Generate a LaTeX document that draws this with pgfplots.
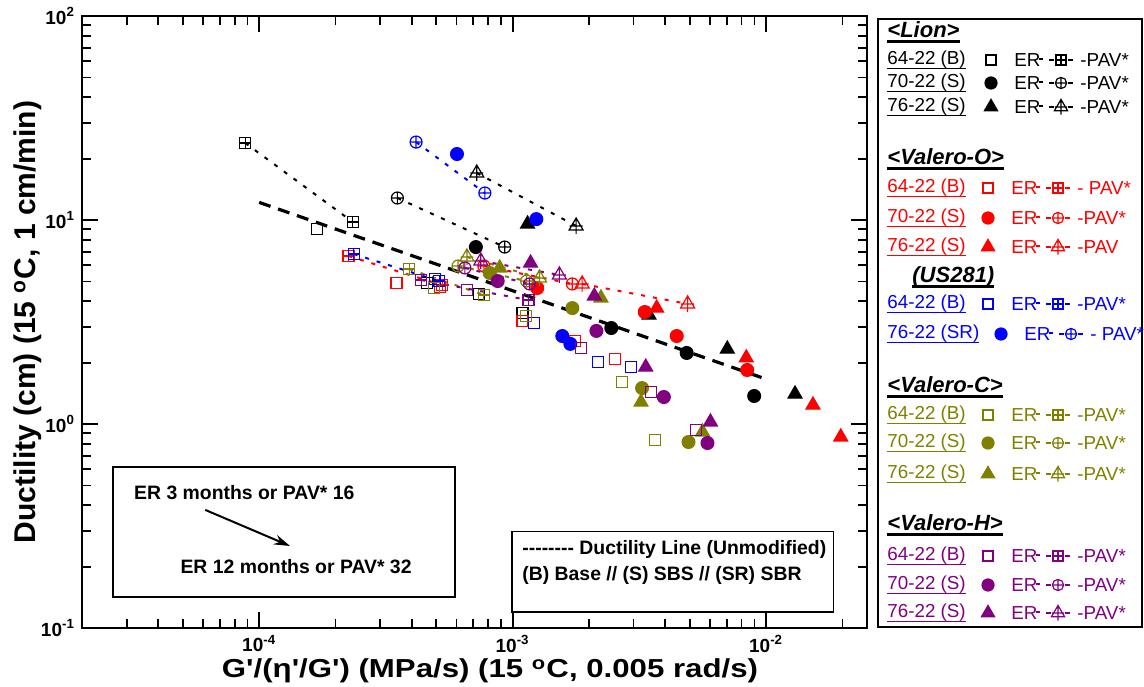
\documentclass[border=0pt]{standalone}
\usepackage{fontspec}
\setmainfont{Liberation Sans}
\usepackage{pgfplots}
\pgfplotsset{compat=1.18}
\usetikzlibrary{arrows.meta}
\definecolor{cred}{RGB}{255,0,0}
\definecolor{cblue}{RGB}{0,0,255}
\definecolor{colive}{RGB}{128,128,0}
\definecolor{cpurple}{RGB}{128,0,128}
\pgfdeclareplotmark{sqplus}{%
  \pgfpathrectangle{\pgfpoint{-\pgfplotmarksize}{-\pgfplotmarksize}}{\pgfpoint{2\pgfplotmarksize}{2\pgfplotmarksize}}%
  \pgfpathmoveto{\pgfpoint{-\pgfplotmarksize}{0pt}}\pgfpathlineto{\pgfpoint{\pgfplotmarksize}{0pt}}%
  \pgfpathmoveto{\pgfpoint{0pt}{-\pgfplotmarksize}}\pgfpathlineto{\pgfpoint{0pt}{\pgfplotmarksize}}%
  \pgfusepathqstroke}
\pgfdeclareplotmark{circplus}{%
  \pgfpathcircle{\pgfpointorigin}{\pgfplotmarksize}%
  \pgfpathmoveto{\pgfpoint{-\pgfplotmarksize}{0pt}}\pgfpathlineto{\pgfpoint{\pgfplotmarksize}{0pt}}%
  \pgfpathmoveto{\pgfpoint{0pt}{-\pgfplotmarksize}}\pgfpathlineto{\pgfpoint{0pt}{\pgfplotmarksize}}%
  \pgfusepathqstroke}
\pgfdeclareplotmark{triplus}{%
  \pgfpathmoveto{\pgfpoint{0pt}{\pgfplotmarksize}}%
  \pgfpathlineto{\pgfpoint{-0.866\pgfplotmarksize}{-0.5\pgfplotmarksize}}%
  \pgfpathlineto{\pgfpoint{0.866\pgfplotmarksize}{-0.5\pgfplotmarksize}}%
  \pgfpathclose
  \pgfpathmoveto{\pgfpoint{0pt}{\pgfplotmarksize}}\pgfpathlineto{\pgfpoint{0pt}{-\pgfplotmarksize}}%
  \pgfpathmoveto{\pgfpoint{-0.8\pgfplotmarksize}{0pt}}\pgfpathlineto{\pgfpoint{0.8\pgfplotmarksize}{0pt}}%
  \pgfusepathqstroke}
\newcommand{\ulthin}[1]{\sbox0{#1}\rlap{\rule[-2.2pt]{\wd0}{0.6pt}}\usebox0}
\newcommand{\ulthick}[1]{\sbox0{#1}\rlap{\rule[-2.8pt]{\wd0}{1.6pt}}\usebox0}
\newcommand{\lfont}{\fontsize{9.4}{11}\selectfont}
\newcommand{\bfont}{\fontsize{9.7}{11}\selectfont\bfseries}
\newcommand{\q}{\textquotesingle}
\pgfplotsset{
  er/.style={only marks, mark options={solid, line width=0.6pt}},
  pav/.style={line width=1pt, dash pattern=on 2pt off 4pt, mark options={solid, line width=0.6pt}},
  msq/.style={mark=square, mark size=2.75pt},
  msqp/.style={mark=sqplus, mark size=2.75pt},
  mci/.style={mark=*, mark size=3.2pt},
  mcip/.style={mark=circplus, mark size=3pt},
  mtr/.style={mark=triangle*, mark size=4pt},
  mtrp/.style={mark=triplus, mark size=4pt},
}
\tikzset{
  lsq/.style={mark=square, mark size=2.5pt},
  lsqp/.style={mark=sqplus, mark size=2.5pt},
  lci/.style={mark=*, mark size=3pt},
  lcip/.style={mark=circplus, mark size=2.8pt},
  ltr/.style={mark=triangle*, mark size=3.8pt},
  ltrp/.style={mark=triplus, mark size=3.8pt},
}
% legend row: y, color, ER mark, PAV mark, label, pav text, dx (ER part), dx2 (PAV part)
\newcommand{\lrow}[8]{%
  \node[anchor=west, text=#2, font=\lfont, inner sep=0pt] at (887,#1) {\ulthin{#5}};
  \path[draw=#2, fill=#2, line width=0.6pt] plot[#3] coordinates {({988+#7},#1)};
  \node[anchor=west, text=#2, font=\lfont, inner sep=0pt] at ({1011+#7},#1) {ER};
  \draw[#2, line width=1pt] ({1036+#7},{#1-1}) -- ({1040+#7},{#1-1});
  \draw[#2, line width=0.9pt] ({1046+#8},#1) -- ({1051+#8},#1) ({1065+#8},#1) -- ({1070+#8},#1);
  \path[draw=#2, line width=0.6pt] plot[#4] coordinates {({1058+#8},#1)};
  \node[anchor=west, text=#2, font=\lfont, inner sep=0pt] at ({1077+#8},#1) {#6};
}
\newcommand{\lhead}[3]{\node[anchor=west, font=\fontsize{11}{13}\selectfont\bfseries\itshape, inner sep=0pt] at (#1,#2) {\ulthick{#3}};}
\begin{document}
\begin{tikzpicture}
\begin{axis}[at={(0,0)}, anchor=south west, scale only axis,
  width=392.5pt, height=306pt,
  xmode=log, ymode=log, xmin=2e-5, xmax=2.5e-2, ymin=0.1, ymax=100,
  tick align=inside, major tick length=8pt, minor tick length=4.5pt,
  axis line style={line width=1.2pt},
  every tick/.style={black, line width=0.9pt},
  xtick={1e-4,1e-3,1e-2},
  xticklabels={10\textsuperscript{-4},10\textsuperscript{-3},10\textsuperscript{-2}},
  minor xtick={3e-5,4e-5,5e-5,6e-5,7e-5,8e-5,9e-5,2e-4,3e-4,4e-4,5e-4,6e-4,7e-4,8e-4,9e-4,2e-3,3e-3,4e-3,5e-3,6e-3,7e-3,8e-3,9e-3,2e-2},
  ytick={0.1,1,10,100},
  yticklabels={10\textsuperscript{-1},10\textsuperscript{0},10\textsuperscript{1},10\textsuperscript{2}},
  minor ytick={0.2,0.3,0.4,0.5,0.6,0.7,0.8,0.9,2,3,4,5,6,7,8,9,20,30,40,50,60,70,80,90},
  ticklabel style={font=\fontsize{9.5}{11}\selectfont\bfseries},
]
% ductility line
\addplot[black, line width=1.6pt, dash pattern=on 6pt off 4pt] coordinates {(1e-4,12.2) (1e-2,1.66)};
% Lion (black)
\addplot[black, er, msq] coordinates {(1.69e-4,9.03) (4.60e-4,4.91) (7.36e-4,4.34) (1.094e-3,3.50)};
\addplot[black, pav, msqp] coordinates {(8.81e-5,23.85) (2.34e-4,9.78)};
\addplot[black, er, mci] coordinates {(7.16e-4,7.37) (2.45e-3,2.955) (4.86e-3,2.23) (8.97e-3,1.372)};
\addplot[black, pav, mcip] coordinates {(3.51e-4,12.82) (9.30e-4,7.37)};
\addplot[black, er, mtr] coordinates {(1.145e-3,9.56) (3.45e-3,3.42) (7.03e-3,2.33) (1.30e-2,1.403)};
\addplot[black, pav, mtrp] coordinates {(7.22e-4,17.0) (1.78e-3,9.35)};
% Valero-O (red)
\addplot[cred, er, msq] coordinates {(3.48e-4,4.91) (5.17e-4,4.69) (1.094e-3,3.20) (1.767e-3,2.55) (2.53e-3,2.08)};
\addplot[cred, pav, msqp] coordinates {(2.25e-4,6.66) (5.27e-4,4.80)};
\addplot[cred, er, mci] coordinates {(1.25e-3,4.64) (3.32e-3,3.54) (4.44e-3,2.70) (8.42e-3,1.84)};
\addplot[cred, pav, mcip] coordinates {(7.70e-4,5.95) (1.72e-3,4.86)};
\addplot[cred, er, mtr] coordinates {(3.70e-3,3.70) (8.35e-3,2.11) (1.53e-2,1.239) (1.97e-2,0.864)};
\addplot[cred, pav, mtrp] coordinates {(1.88e-3,4.86) (4.90e-3,3.88)};
% US281 (blue)
\addplot[cblue, er, msq] coordinates {(4.94e-4,5.14) (1.21e-3,3.13) (2.17e-3,2.01) (2.93e-3,1.90)};
\addplot[cblue, pav, msqp] coordinates {(2.36e-4,6.81) (5.13e-4,5.02)};
\addplot[cblue, er, mci] coordinates {(6.03e-4,21.06) (1.24e-3,10.1) (1.57e-3,2.70) (1.689e-3,2.47)};
\addplot[cblue, pav, mcip] coordinates {(4.16e-4,24.1) (7.77e-4,13.56)};
% Valero-C (olive)
\addplot[colive, er, msq] coordinates {(4.90e-4,4.64) (1.125e-3,3.38) (2.70e-3,1.61) (3.64e-3,0.835)};
\addplot[colive, pav, msqp] coordinates {(3.91e-4,5.75) (7.70e-4,4.29)};
\addplot[colive, er, mci] coordinates {(8.12e-4,5.50) (1.72e-3,3.70) (3.24e-3,1.50) (4.94e-3,0.816)};
\addplot[colive, pav, mcip] coordinates {(6.09e-4,5.95) (1.135e-3,5.02)};
\addplot[colive, er, mtr] coordinates {(8.89e-4,5.82) (2.23e-3,4.15) (3.21e-3,1.28) (5.61e-3,0.914)};
\addplot[colive, pav, mtrp] coordinates {(6.60e-4,6.59) (1.276e-3,5.20)};
% Valero-H (purple)
\addplot[cpurple, er, msq] coordinates {(6.60e-4,4.54) (1.865e-3,2.36) (3.51e-3,1.435) (5.27e-3,0.935)};
\addplot[cpurple, pav, msqp] coordinates {(4.36e-4,5.08) (1.155e-3,4.05)};
\addplot[cpurple, er, mci] coordinates {(8.73e-4,5.02) (2.14e-3,2.86) (3.95e-3,1.356) (5.87e-3,0.807)};
\addplot[cpurple, pav, mcip] coordinates {(6.48e-4,5.82) (1.166e-3,4.86)};
\addplot[cpurple, er, mtr] coordinates {(1.177e-3,6.15) (2.10e-3,4.24) (3.35e-3,1.90) (6.03e-3,1.023)};
\addplot[cpurple, pav, mtrp] coordinates {(7.49e-4,6.30) (1.529e-3,5.38)};
% annotation boxes
\draw[line width=1.1pt] (rel axis cs:0.0395,0.0507) rectangle (rel axis cs:0.475,0.263);
\node[anchor=west, font=\bfont, inner sep=0pt] at (rel axis cs:0.066,0.222) {ER 3 months or PAV* 16};
\draw[-{Stealth[length=8pt,width=5pt]}, line width=1pt] (rel axis cs:0.157,0.193) -- (rel axis cs:0.265,0.134);
\node[anchor=west, font=\bfont, inner sep=0pt] at (rel axis cs:0.125,0.0997) {ER 12 months or PAV* 32};
\draw[line width=0.7pt] (rel axis cs:0.548,0.026) rectangle (rel axis cs:0.957,0.158);
\node[anchor=west, font=\bfont, inner sep=0pt] at (rel axis cs:0.5605,0.129) {-{}-{}-{}-{}-{}-{}-{}- Ductility Line (Unmodified)};
\node[anchor=west, font=\bfont, inner sep=0pt] at (rel axis cs:0.5605,0.085) {(B) Base // (S) SBS // (SR) SBR};
\end{axis}
\begin{scope}[x=0.5pt, y=-0.5pt, shift={(-41pt,314pt)}]
\node[rotate=90, font=\fontsize{15}{17}\selectfont\bfseries] at (28,322) {Ductility (cm) (15 \textsuperscript{o}C, 1 cm/min)};
\node[font=\fontsize{13}{15}\selectfont\bfseries, inner sep=0pt] at (490,671) {\scalebox{1.2}[1]{G\q/(η\q/G\q) (MPa/s) (15 \textsuperscript{o}C, 0.005 rad/s)}};
\draw[line width=1.1pt] (878,19) rectangle (1142,627);
\lhead{887}{32}{<Lion>}
\lrow{60}{black}{lsq}{lsqp}{64-22 (B)}{-PAV*}{3}{3}
\lrow{83}{black}{lci}{lcip}{70-22 (S)}{-PAV*}{3}{3}
\lrow{107}{black}{ltr}{ltrp}{76-22 (S)}{-PAV*}{3}{3}
\lhead{887}{159}{<Valero-O>}
\lrow{188}{cred}{lsq}{lsqp}{64-22 (B)}{- PAV*}{0}{0}
\lrow{218}{cred}{lci}{lcip}{70-22 (S)}{-PAV*}{0}{0}
\lrow{247}{cred}{ltr}{ltrp}{76-22 (S)}{-PAV}{0}{0}
\lhead{912}{277}{(US281)}
\lrow{304}{cblue}{lsq}{lsqp}{64-22 (B)}{-PAV*}{0}{0}
\lrow{334}{cblue}{lci}{lcip}{76-22 (SR)}{- PAV*}{13}{13}
\lhead{887}{387}{<Valero-C>}
\lrow{415}{colive}{lsq}{lsqp}{64-22 (B)}{-PAV*}{0}{0}
\lrow{443}{colive}{lci}{lcip}{70-22 (S)}{-PAV*}{0}{0}
\lrow{474}{colive}{ltr}{ltrp}{76-22 (S)}{-PAV*}{0}{0}
\lhead{887}{525}{<Valero-H>}
\lrow{556}{cpurple}{lsq}{lsqp}{64-22 (B)}{-PAV*}{0}{0}
\lrow{585}{cpurple}{lci}{lcip}{70-22 (S)}{-PAV*}{0}{0}
\lrow{613}{cpurple}{ltr}{ltrp}{76-22 (S)}{-PAV*}{0}{0}
\end{scope}
\pgfresetboundingbox
\path[use as bounding box] (-41pt,-29pt) rectangle (531pt,314pt);
\end{tikzpicture}
\end{document}
